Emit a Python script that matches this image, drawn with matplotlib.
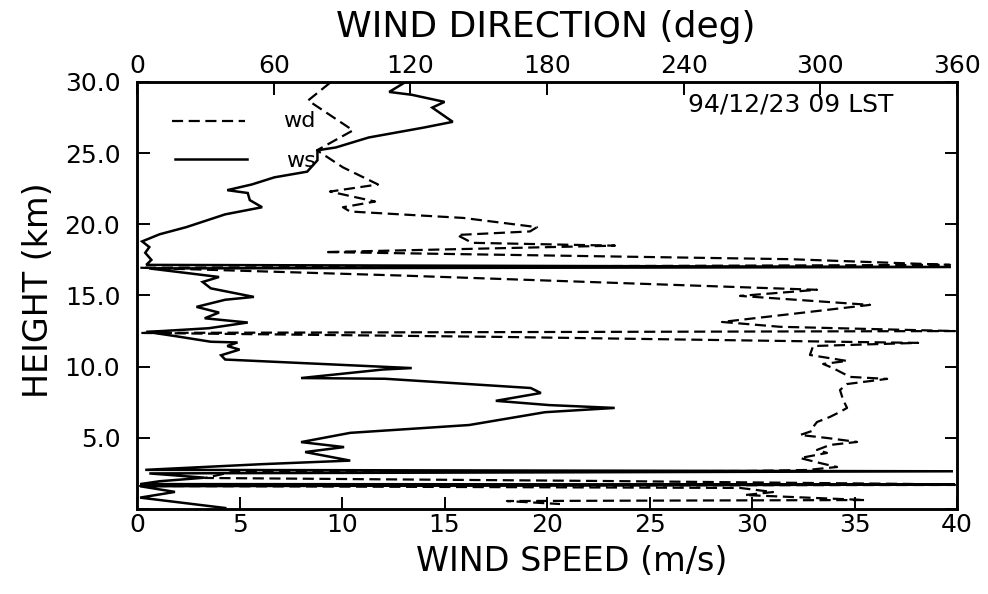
import matplotlib
matplotlib.use("Agg")
import matplotlib.pyplot as plt
from matplotlib.lines import Line2D

# ---- data ----
ws_height = [30.0, 29.3, 29.1, 28.6, 28.2, 27.2, 26.8, 26.1, 25.4, 25.2, 24.5, 23.7, 23.3, 22.8,
             22.4, 22.2, 21.7, 21.2, 20.7, 19.8, 19.3, 18.8, 18.4, 18.0, 17.5, 17.15, 17.0, 16.9,
             16.6, 16.3, 15.95, 15.5, 14.9, 14.7, 14.2, 13.8, 13.4, 13.1, 12.7, 12.5, 12.45, 12.15,
             11.75, 11.7, 11.45, 11.2, 10.8, 10.5, 9.9, 9.8, 9.2, 9.15, 8.5, 8.15, 7.6, 7.3, 7.1,
             6.8, 5.9, 5.35, 4.7, 4.35, 4.0, 3.4, 3.15, 2.75, 2.65, 2.5, 2.2, 1.95, 1.75, 1.72,
             1.6, 1.2, 0.8, 0.07]
ws_speed = [13.1, 12.3, 13.4, 15.0, 14.4, 15.4, 14.0, 11.3, 9.7, 8.8, 8.8, 8.3, 6.7, 5.6,
            4.4, 5.4, 5.5, 6.1, 4.3, 2.4, 1.1, 0.25, 0.6, 0.4, 0.7, 0.45, 39.7, 0.6,
            2.3, 4.0, 3.2, 3.6, 5.7, 4.3, 2.9, 4.0, 3.3, 5.4, 3.5, 1.2, 0.45, 1.85,
            3.6, 4.9, 4.4, 5.0, 4.1, 4.3, 13.4, 12.0, 8.0, 12.1, 19.2, 19.7, 17.5, 20.1, 23.3,
            19.9, 16.2, 10.4, 8.0, 10.1, 8.2, 10.4, 6.1, 0.4, 39.8, 0.6, 3.3, 1.1, 0.15, 39.9,
            0.15, 1.85, 0.15, 4.3]

wd_height = [29.94, 28.7, 26.6, 25.9, 25.2, 24.0, 22.8, 22.3, 21.6, 21.2, 20.9, 20.45, 19.8,
             19.5, 19.25, 18.7, 18.5, 18.05, 17.55, 17.15, 16.95, 16.4, 15.4, 14.97, 14.34,
             13.77, 13.14, 12.8, 12.5, 12.37, 12.09, 11.67, 11.45, 10.82, 10.4, 10.19, 9.9,
             9.28, 9.14, 8.78, 8.36, 7.66, 7.1, 6.82, 6.47, 6.11, 5.76, 5.48, 5.2, 4.99, 4.71,
             4.5, 4.15, 3.94, 3.58, 3.23, 2.95, 2.74, 2.67, 2.6, 2.18, 1.97, 1.76, 1.69, 1.62,
             1.48, 1.19, 0.98, 0.63, 0.56, 0.35]
wd_dir = [84.7, 75.1, 94.8, 86.9, 79.0, 90.4, 105.8, 84.7, 104.5, 90.4, 93.5, 143.1, 175.6,
          172.5, 140.5, 147.1, 209.8, 82.5, 286.7, 356.9, 1.3, 116.3, 298.5, 264.7, 321.8,
          291.1, 256.8, 282.3, 359.1, 1.3, 159.4, 342.9, 296.8, 295.4, 311.7, 301.2, 305.5,
          313.0, 329.3, 311.7, 308.6, 310.0, 311.7, 308.6, 304.2, 298.5, 296.8, 296.3, 291.1,
          302.9, 316.1, 304.2, 298.5, 302.9, 291.1, 299.8, 307.3, 294.1, 267.8, 41.7, 29.9,
          203.3, 339.3, 359.1, 1.3, 264.7, 279.2, 266.9, 319.6, 162.4, 185.7]

speed_ticks = [0, 5, 10, 15, 20, 25, 30, 35, 40]
dir_ticks = [0, 60, 120, 180, 240, 300, 360]
height_ticks = [0, 5, 10, 15, 20, 25, 30]
height_labels = ["", "5.0", "10.0", "15.0", "20.0", "25.0", "30.0"]
annotation = "94/12/23 09 LST"

# ---- figure ----
plt.rcParams['font.family'] = ['DejaVu Sans']
fig = plt.figure(figsize=(9.88, 5.94), dpi=100)
ax = fig.add_axes([0.1387, 0.1431, 0.830, 0.7189])

dash = (0, (5, 2.5))
ax.plot(ws_speed, ws_height, color='black', lw=1.8, solid_joinstyle='miter')
ax.set_xlim(0, 40)
ax.set_ylim(0, 30)
ax.set_xticks(speed_ticks)
ax.set_xticklabels([str(t) for t in speed_ticks])
ax.set_yticks(height_ticks)
ax.set_yticklabels(height_labels)
ax.tick_params(axis='both', direction='in', length=9, width=1.4, labelsize=18, colors='black')
ax.tick_params(axis='y', right=True, pad=12)
ax.tick_params(axis='x', pad=3)

ax2 = ax.twiny()
ax2.plot(wd_dir, wd_height, color='black', lw=1.6, linestyle=dash)
ax2.set_xlim(0, 360)
ax2.set_ylim(0, 30)
ax2.set_xticks(dir_ticks)
ax2.set_xticklabels([str(t) for t in dir_ticks])
ax2.tick_params(axis='x', direction='in', length=9, width=1.4, labelsize=18, pad=3)

for a in (ax, ax2):
    for s in a.spines.values():
        s.set_linewidth(1.8)

ax.set_xlabel("WIND SPEED (m/s)", fontsize=24)
ax.xaxis.set_label_coords(0.530, -0.085)
ax.set_ylabel("HEIGHT (km)", fontsize=24)
ax.yaxis.set_label_coords(-0.10, 0.513)
ax2.set_xlabel("WIND DIRECTION (deg)", fontsize=26)
ax2.xaxis.set_label_coords(0.499, 1.105)

# hand-drawn legend as in the original
ax.add_line(Line2D([0.043, 0.132], [0.909, 0.909], transform=ax.transAxes,
                   color='black', lw=1.6, linestyle=dash))
ax.add_line(Line2D([0.046, 0.134], [0.820, 0.820], transform=ax.transAxes,
                   color='black', lw=1.8))
ax.text(0.178, 0.909, "wd", transform=ax.transAxes, fontsize=16, va='center', ha='left')
ax.text(0.182, 0.815, "ws", transform=ax.transAxes, fontsize=16, va='center', ha='left')

ax.text(0.672, 0.948, annotation, transform=ax.transAxes, fontsize=18, va='center', ha='left')

fig.savefig("out.png", dpi=100)
